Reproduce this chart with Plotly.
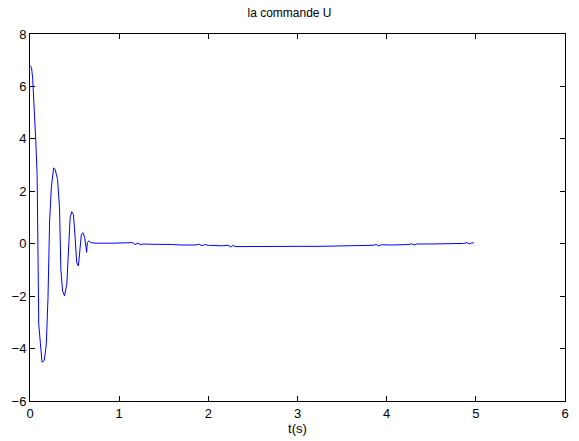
import plotly.graph_objects as go

t_vals = [0.0, 0.017, 0.03, 0.04, 0.054, 0.065, 0.08, 0.091, 0.098, 0.117, 0.135,
          0.161, 0.183, 0.202, 0.22, 0.239, 0.265, 0.283, 0.309, 0.331, 0.346,
          0.365, 0.387, 0.413, 0.431, 0.45, 0.468, 0.487, 0.506, 0.524, 0.543,
          0.561, 0.576, 0.594, 0.613, 0.628, 0.635, 0.643, 0.661, 0.68, 0.75,
          0.9, 1.0, 1.12, 1.15, 1.18, 1.21, 1.24, 1.27, 1.35, 1.5, 1.6, 1.7,
          1.85, 1.9, 1.93, 1.96, 1.99, 2.0, 2.15, 2.22, 2.25, 2.28, 2.31, 2.5,
          2.75, 3.0, 3.25, 3.4, 3.6, 3.75, 3.85, 3.88, 3.91, 3.94, 4.05, 4.25,
          4.28, 4.31, 4.34, 4.5, 4.7, 4.86, 4.9, 4.93, 4.96, 4.98]
u_vals = [6.8, 6.72, 6.3, 5.68, 4.79, 3.9, 2.63, 0.0, -3.06, -3.82, -4.52,
          -4.45, -3.82, -2.05, 0.87, 2.13, 2.89, 2.83, 2.45, 1.37, -0.97,
          -1.8, -1.99, -1.54, -0.02, 1.0, 1.22, 1.12, 0.24, -0.72, -0.85,
          -0.28, 0.36, 0.42, 0.24, -0.14, -0.33, 0.05, 0.11, 0.04, 0.02,
          0.02, 0.02, 0.02, 0.04, -0.03, 0.02, -0.04, -0.01, -0.02, -0.02, -0.03, -0.05,
          -0.05, -0.02, -0.08, -0.03, -0.07, -0.06, -0.08, -0.06, -0.12, -0.07, -0.11, -0.1,
          -0.1, -0.1, -0.1, -0.09, -0.09, -0.07, -0.06, -0.03, -0.08, -0.04, -0.05, -0.03,
          0.0, -0.05, -0.01, -0.01, 0.0, 0.01, 0.04, -0.01, 0.04, 0.02]

x_ticks = [0, 1, 2, 3, 4, 5, 6]
y_ticks = [-6, -4, -2, 0, 2, 4, 6, 8]

font_main = dict(family="Liberation Sans, Arial", size=13, color="black")

fig = go.Figure()
fig.add_trace(go.Scatter(x=t_vals, y=u_vals, mode="lines",
                         line=dict(color="#0000ff", width=1)))

axis_common = dict(showgrid=False, zeroline=False, showline=True, linecolor="black",
                   linewidth=1, mirror="ticks", ticks="inside", ticklen=5,
                   tickcolor="black", tickfont=font_main)

fig.update_layout(
    width=579, height=441,
    margin=dict(l=30, r=10, t=34, b=40),
    paper_bgcolor="white", plot_bgcolor="white",
    showlegend=False,
    title=dict(text="la commande U", x=0.5, xanchor="center", y=0.972, yanchor="middle",
               font=dict(family="Liberation Sans, Arial", size=12, color="black")),
    xaxis=dict(range=[0, 6], tickvals=x_ticks,
               title=dict(text="t(s)", standoff=1, font=font_main),
               **axis_common),
    yaxis=dict(range=[-6, 8], tickvals=y_ticks, **axis_common),
)

fig.write_html("out.html")
